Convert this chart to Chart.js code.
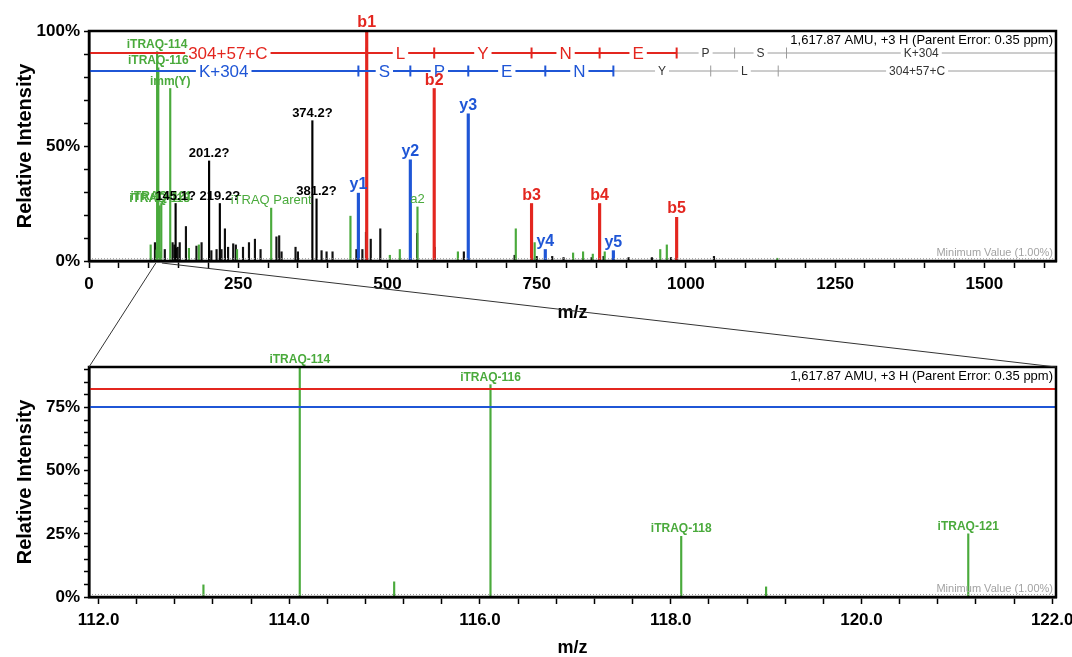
<!DOCTYPE html>
<html><head><meta charset="utf-8">
<script src="https://cdn.jsdelivr.net/npm/chart.js@4.4.1/dist/chart.umd.min.js"></script>
<style>
html,body{margin:0;padding:0;background:#fff;width:1072px;height:657px;overflow:hidden}
canvas{position:absolute;left:0}
#top{top:0}
#bot{top:330px}
#ov{top:0;pointer-events:none}
</style></head><body>
<canvas id="top" width="1072" height="330"></canvas>
<canvas id="bot" width="1072" height="327"></canvas>
<canvas id="ov" width="1072" height="657"></canvas>
<script>
const FONT = "'Liberation Sans', Arial, Helvetica, sans-serif";
const RED = '#e3261f', BLUE = '#1f56d6', GREEN = '#4aaa3c', LADDER_GRAY = '#9a9a9a';

// ---------------- data ----------------
const parentInfo = '1,617.87 AMU, +3 H (Parent Error: 0.35 ppm)';
const minValueInfo = 'Minimum Value (1.00%)';
const minValuePct = 1;
const fullRangeMz = [0, 1620];
const zoomRangeMz = [111.9, 122.04];

// b-ion ladder (N-term) and observed b peaks
const bIonMz = [465.24, 578.32, 741.39, 855.43, 984.48, 1081.53, 1168.56];
const bResidues = ['304+57+C', 'L', 'Y', 'N', 'E', 'P', 'S', 'K+304'];
const bPeakInt = [100, 75, 25, 25, 19];
const bPeakLabels = ['b1', 'b2', 'b3', 'b4', 'b5'];

// y-ion ladder (C-term) and observed y peaks
const yIonMz = [451.30, 538.33, 635.38, 764.43, 878.47, 1041.53, 1154.62];
const yResidues = ['K+304', 'S', 'P', 'E', 'N', 'Y', 'L', '304+57+C'];
const yPeakInt = [29.5, 44, 64, 5, 4.5];
const yPeakLabels = ['y1', 'y2', 'y3', 'y4', 'y5'];

// reporter / immonium ions (green)
const reporterMz = [114.11, 116.11, 118.11, 121.12, 136.08];
const reporterInt = [91, 84, 24, 25, 75];
const reporterLabels = ['iTRAQ-114', 'iTRAQ-116', 'iTRAQ-118', 'iTRAQ-121', 'imm(Y)'];

// other labelled green ions
const otherGreenMz = [305.2, 550.3];
const otherGreenInt = [23, 23.5];
const otherGreenLabels = ['iTRAQ Parent', 'a2'];

// unassigned labelled peaks (black)
const unknownMz = [145.1, 201.2, 219.2, 374.2, 381.2];
const unknownInt = [25, 43.5, 25, 61, 27];
const unknownLabels = ['145.1?', '201.2?', '219.2?', '374.2?', '381.2?'];

// unlabelled green peaks
const greenNoiseMz  = [103.3, 113.1, 115.1, 119.0, 167.4, 184, 248, 438, 504, 520.7, 618, 715, 746.6, 811, 827.7, 844, 864, 957, 968, 1153];
const greenNoiseInt = [7, 4.8, 6, 4, 5.5, 7, 5, 19.5, 2.5, 5, 4, 14, 8, 3.5, 4, 3, 4, 5, 7, 1.2];

// unlabelled black peaks
const blackNoiseMz  = [110.5, 127, 140, 143, 146.8, 148.5, 152, 162.4, 180, 188.6, 205, 213.7, 222, 227.7, 233, 241.6, 246, 258, 268, 278, 287.4, 314, 318.6, 322.6, 346, 350, 389.6, 398, 408, 448, 458, 464, 472, 488, 549.7, 579, 628, 713, 750, 776, 795, 842, 862, 878, 904, 943, 975, 1047];
const blackNoiseInt = [8, 5, 8, 7, 5.5, 6, 8, 15, 6.5, 8, 4.5, 5, 5, 14, 6, 7.5, 7, 6, 8, 9.5, 5, 10.5, 11, 4, 6, 4, 4.5, 4, 4, 5, 5, 12.5, 9.5, 14, 12, 6, 4, 2.5, 2, 2, 1.5, 1.5, 2, 1.5, 1.5, 1.5, 1.5, 2];

// ---------------- helpers ----------------
const pts = (mz, it) => mz.map((m, i) => ({x: m, y: it[i]}));
const isMult = (v, s) => Math.abs(v / s - Math.round(v / s)) < 1e-6;
const stepTicks = step => s => {
  const t = [];
  const k0 = Math.ceil(s.min / step - 1e-9), k1 = Math.floor(s.max / step + 1e-9);
  for (let k = k0; k <= k1; k++) t.push({value: +(k * step).toFixed(6)});
  s.ticks = t;
};

function drawLadder(chart, ions, residues, nObs, color, dy) {
  const ctx = chart.ctx, ca = chart.chartArea, xs = chart.scales.x;
  const y = ca.top + dy;
  const bounds = [xs.min, ...ions, xs.max].map(v => xs.getPixelForValue(v));
  ctx.save();
  ctx.beginPath(); ctx.rect(ca.left, ca.top, ca.right - ca.left, ca.bottom - ca.top); ctx.clip();
  ctx.textAlign = 'center'; ctx.textBaseline = 'middle';
  for (let i = 0; i < residues.length; i++) {
    const a = bounds[i], b = bounds[i + 1];
    const obs = i < nObs;
    ctx.font = obs ? `17px ${FONT}` : `12px ${FONT}`;
    const w = ctx.measureText(residues[i]).width;
    const cx = (a + b) / 2;
    const g0 = cx - w / 2 - 3, g1 = cx + w / 2 + 3;
    ctx.strokeStyle = obs ? color : LADDER_GRAY;
    ctx.lineWidth = obs ? 2 : 1;
    ctx.beginPath();
    if (g0 > a) { ctx.moveTo(a, y); ctx.lineTo(Math.min(g0, b), y); }
    if (g1 < b) { ctx.moveTo(Math.max(g1, a), y); ctx.lineTo(b, y); }
    ctx.stroke();
    ctx.fillStyle = obs ? color : '#333';
    ctx.fillText(residues[i], cx, y + 1);
  }
  ions.forEach((m, i) => {
    const px = xs.getPixelForValue(m);
    const obs = i < nObs;
    ctx.strokeStyle = obs ? color : LADDER_GRAY;
    ctx.lineWidth = obs ? 2 : 1;
    ctx.beginPath(); ctx.moveTo(px, y - 5.5); ctx.lineTo(px, y + 5.5); ctx.stroke();
  });
  ctx.restore();
}

const spectrumDecor = {
  id: 'spectrumDecor',
  afterDatasetsDraw(chart) {
    const ctx = chart.ctx, ca = chart.chartArea, ys = chart.scales.y;
    ctx.save();
    ctx.strokeStyle = '#999'; ctx.setLineDash([1, 2]); ctx.lineWidth = 1;
    const ym = ys.getPixelForValue(minValuePct);
    ctx.beginPath(); ctx.moveTo(ca.left, ym); ctx.lineTo(ca.right, ym); ctx.stroke();
    ctx.restore();
    drawLadder(chart, bIonMz, bResidues, bPeakInt.length, RED, 22);
    drawLadder(chart, yIonMz, yResidues, yPeakInt.length, BLUE, 40);
    ctx.save();
    ctx.fillStyle = '#000'; ctx.font = `13px ${FONT}`; ctx.textAlign = 'right'; ctx.textBaseline = 'middle';
    ctx.fillText(parentInfo, ca.right - 3, ca.top + 9);
    ctx.fillStyle = '#a3a3a3'; ctx.font = `11px ${FONT}`; ctx.textBaseline = 'alphabetic';
    ctx.fillText(minValueInfo, ca.right - 3, ca.bottom - 5);
    ctx.textAlign = 'center';
    chart.data.datasets.forEach((ds, di) => {
      if (!ds.peakLabels) return;
      const meta = chart.getDatasetMeta(di);
      ctx.font = ds.labelFont; ctx.fillStyle = ds.labelColor;
      meta.data.forEach((el, i) => {
        const t = ds.peakLabels[i];
        if (!t || el.x < ca.left - 0.5 || el.x > ca.right + 0.5) return;
        ctx.fillText(t, el.x, el.y - 4);
      });
    });
    ctx.restore();
  },
  afterDraw(chart) {
    const ctx = chart.ctx, ca = chart.chartArea;
    ctx.save();
    ctx.strokeStyle = '#000'; ctx.lineWidth = 2.5;
    ctx.strokeRect(ca.left, ca.top, ca.right - ca.left, ca.bottom - ca.top);
    ctx.restore();
  }
};

function datasets() {
  const common = {stack: 'all', borderWidth: 0};
  return [
    {...common, data: pts(bIonMz.slice(0, bPeakInt.length), bPeakInt), backgroundColor: RED, barThickness: 2.5,
     peakLabels: bPeakLabels, labelFont: `bold 16px ${FONT}`, labelColor: RED},
    {...common, data: pts(yIonMz.slice(0, yPeakInt.length), yPeakInt), backgroundColor: BLUE, barThickness: 2.5,
     peakLabels: yPeakLabels, labelFont: `bold 16px ${FONT}`, labelColor: BLUE},
    {...common, data: pts(reporterMz, reporterInt), backgroundColor: GREEN, barThickness: 1.5,
     peakLabels: reporterLabels, labelFont: `bold 12px ${FONT}`, labelColor: GREEN},
    {...common, data: pts(otherGreenMz, otherGreenInt), backgroundColor: GREEN, barThickness: 1.5,
     peakLabels: otherGreenLabels, labelFont: `13px ${FONT}`, labelColor: GREEN},
    {...common, data: pts(unknownMz, unknownInt), backgroundColor: '#000', barThickness: 1.5,
     peakLabels: unknownLabels, labelFont: `bold 13px ${FONT}`, labelColor: '#000'},
    {...common, data: pts(greenNoiseMz, greenNoiseInt), backgroundColor: GREEN, barThickness: 1.5},
    {...common, data: pts(blackNoiseMz, blackNoiseInt), backgroundColor: '#111', barThickness: 1.5}
  ];
}

function makeChart(id, cfg) {
  return new Chart(document.getElementById(id), {
    type: 'bar',
    data: {datasets: datasets()},
    plugins: [spectrumDecor],
    options: {
      responsive: false, animation: false, devicePixelRatio: 1, events: [],
      layout: {padding: {top: cfg.padTop, right: 16, left: 0, bottom: 0}},
      plugins: {legend: {display: false}, tooltip: {enabled: false}},
      scales: {
        x: {
          type: 'linear', min: cfg.xRange[0], max: cfg.xRange[1], offset: false,
          afterBuildTicks: stepTicks(cfg.xStep),
          afterFit: s => { s.height = cfg.xAxisH; s.paddingLeft = 0; s.paddingRight = 0; },
          ticks: {autoSkip: false, maxRotation: 0, minRotation: 0, padding: 6, color: '#000',
            font: {family: FONT, size: 17, weight: 'bold'},
            callback: v => isMult(v, cfg.xMajor) ? cfg.xFmt(v) : ''},
          grid: {drawOnChartArea: false, offset: false, tickLength: 7, tickColor: '#000', tickWidth: 1.5},
          border: {color: '#000', width: 2.5},
          title: {display: true, text: 'm/z', color: '#000', font: {family: FONT, size: 18, weight: 'bold', lineHeight: 1},
            padding: {top: 0, bottom: cfg.xTitlePad}}
        },
        y: {
          min: 0, max: cfg.yMax, stacked: false,
          afterBuildTicks: stepTicks(cfg.yStep),
          afterFit: s => { s.width = 89; s.paddingTop = 0; s.paddingBottom = 0; },
          ticks: {autoSkip: false, padding: 4, color: '#000',
            font: {family: FONT, size: 17, weight: 'bold'},
            callback: v => isMult(v, cfg.yMajor) ? v + '%' : ''},
          grid: {drawOnChartArea: false, tickLength: 5, tickColor: '#000', tickWidth: 1.5},
          border: {color: '#000', width: 2.5},
          title: {display: true, text: 'Relative Intensity', color: '#000',
            font: {family: FONT, size: 20, weight: 'bold', lineHeight: 1}, padding: {top: 15, bottom: 0}}
        }
      }
    }
  });
}

const zoomMax = (() => {
  const groups = [[bIonMz.slice(0, bPeakInt.length), bPeakInt], [yIonMz.slice(0, yPeakInt.length), yPeakInt],
    [reporterMz, reporterInt], [otherGreenMz, otherGreenInt], [unknownMz, unknownInt],
    [greenNoiseMz, greenNoiseInt], [blackNoiseMz, blackNoiseInt]];
  let m = 0;
  groups.forEach(([mz, it]) => mz.forEach((v, i) => { if (v >= zoomRangeMz[0] && v <= zoomRangeMz[1]) m = Math.max(m, it[i]); }));
  return m;
})();

const topChart = makeChart('top', {
  xRange: fullRangeMz, xStep: 50, xMajor: 250, xFmt: v => String(Math.round(v)),
  yMax: 100, yStep: 10, yMajor: 50, padTop: 31, xAxisH: 69, xTitlePad: 8
});
const botChart = makeChart('bot', {
  xRange: zoomRangeMz, xStep: 0.4, xMajor: 2, xFmt: v => v.toFixed(1),
  yMax: zoomMax, yStep: 5, yMajor: 25, padTop: 37, xAxisH: 60, xTitlePad: 0
});

// zoom connector lines
(function () {
  const ov = document.getElementById('ov').getContext('2d');
  const xt = topChart.scales.x, ca = topChart.chartArea, cb = botChart.chartArea;
  const botOffset = 330;
  ov.strokeStyle = '#333'; ov.lineWidth = 1;
  ov.beginPath();
  ov.moveTo(xt.getPixelForValue(zoomRangeMz[0]), ca.bottom + 2); ov.lineTo(cb.left, botOffset + cb.top);
  ov.moveTo(xt.getPixelForValue(zoomRangeMz[1]), ca.bottom + 2); ov.lineTo(cb.right, botOffset + cb.top);
  ov.stroke();
})();
</script></body></html>
